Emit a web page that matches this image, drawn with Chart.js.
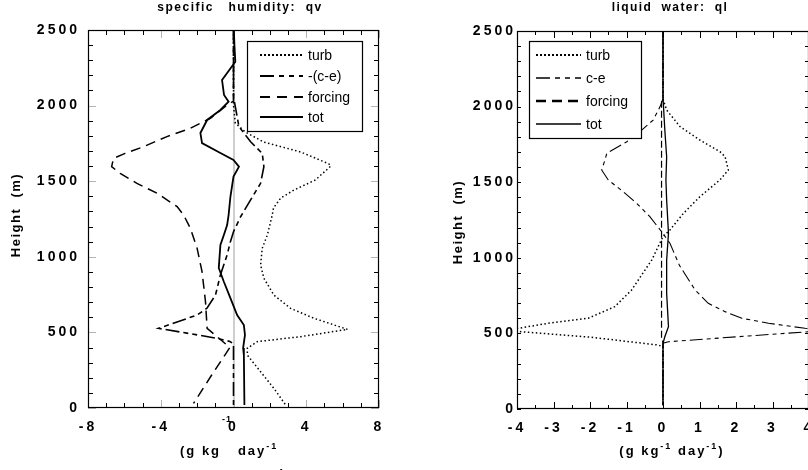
<!DOCTYPE html>
<html>
<head>
<meta charset="utf-8">
<script src="https://cdn.jsdelivr.net/npm/chart.js@4/dist/chart.umd.min.js"></script>
<style>
html, body { margin: 0; padding: 0; background: #fff; overflow: hidden; }
#wrap { position: relative; width: 808px; height: 470px; overflow: hidden; }
canvas { position: absolute; top: 0; }
#qv { left: 0; }
#ql { left: 404px; }
</style>
</head>
<body>
<div id="wrap">
  <canvas id="qv" width="404" height="470"></canvas>
  <canvas id="ql" width="420" height="470"></canvas>
</div>
<script>
// Tendency profiles: heights (m) and values (g kg-1 day-1)

// specific humidity qv
const qvTurbZ = [2500, 2000, 1884, 1825, 1759, 1693, 1615, 1600, 1508, 1442, 1389, 1323, 1276, 1144, 1056, 946, 858, 747, 659, 593, 520, 472, 439, 395, 350, 240, 130, 20];
const qvTurbX = [0, 0, 0.1, 0.66, 1.66, 3.7, 5.24, 5.35, 4.5, 3.33, 2.6, 2.2, 2.13, 1.86, 1.58, 1.49, 1.67, 2.22, 3.14, 4.43, 6.27, 3.7, 1.31, 0.76, 0.76, 1.49, 2.22, 2.87];

const qvCeZ = [2500, 2059, 1861, 1761, 1684, 1596, 1486, 1376, 1265, 1166, 1100, 1012, 880, 747, 661, 615, 527, 461, 440, 425, 20];
const qvCeX = [0, 0, 0.3, 0.94, 1.58, 1.67, 1.49, 0.94, 0.39, 0, -0.17, -0.35, -0.72, -0.99, -1.45, -2.0, -4.12, -0.9, -0.2, 0, 0];

const qvForZ = [2500, 2030, 2004, 1916, 1850, 1795, 1728, 1684, 1651, 1596, 1552, 1486, 1420, 1332, 1276, 1188, 1056, 902, 703, 527, 400, 218, 30];
const qvForX = [0, 0, -0.35, -1.27, -2.37, -3.66, -4.95, -5.96, -6.6, -6.7, -6.23, -5.31, -4.2, -3.1, -2.74, -2.37, -2.0, -1.73, -1.54, -1.45, -0.2, -1.2, -2.2];

const qvTotZ = [2500, 2400, 2290, 2169, 2070, 2026, 1971, 1905, 1819, 1752, 1686, 1640, 1596, 1530, 1397, 1276, 1210, 1144, 1078, 926, 835, 727, 615, 549, 483, 397, 350, 20];
const qvTotX = [0.02, 0.05, 0.1, -0.63, -0.52, -0.27, -0.72, -1.45, -1.82, -1.73, -0.72, 0, 0.3, 0, -0.17, -0.27, -0.35, -0.53, -0.72, -0.81, -0.53, -0.17, 0.2, 0.57, 0.63, 0.53, 0.57, 0.6];

// liquid water ql
const qlTurbZ = [2500, 2050, 1977, 1867, 1779, 1702, 1669, 1581, 1515, 1404, 1294, 1184, 1140, 985, 787, 677, 600, 567, 534, 522, 511, 474, 423, 412, 25];
const qlTurbX = [0, 0, 0.1, 0.47, 1.01, 1.56, 1.7, 1.79, 1.56, 1.01, 0.56, 0.19, 0, -0.31, -0.86, -1.32, -2.05, -3.14, -3.96, -4.6, -3.87, -1.95, -0.13, 0, 0];

const qlCeZ = [2500, 2050, 2000, 1911, 1834, 1768, 1691, 1647, 1581, 1515, 1437, 1360, 1272, 1173, 1096, 950, 787, 699, 644, 600, 567, 534, 522, 511, 483, 445, 435, 25];
const qlCeX = [0, 0, -0.08, -0.27, -0.63, -0.99, -1.54, -1.59, -1.68, -1.5, -1.09, -0.72, -0.36, -0.04, 0.19, 0.45, 0.88, 1.24, 1.7, 2.16, 2.89, 3.89, 4.6, 3.98, 2.34, 0.15, 0, 0];

const qlForZ = [2500, 2060, 2030, 470, 440, 25];
const qlForX = [0, 0, -0.04, -0.04, 0, 0];

const qlTotZ = [2500, 2060, 1845, 1669, 1515, 1382, 1162, 985, 765, 544, 478, 434, 25];
const qlTotX = [0, 0, 0.05, 0.1, 0.08, 0.1, 0.15, 0.1, 0.1, 0.15, 0.05, 0, 0];

const heightTicks = [0, 500, 1000, 1500, 2000, 2500];

const FONT = '"Liberation Sans", Arial, Helvetica, sans-serif';

function series(label, zs, xs, style) {
    return Object.assign({
        label: label,
        data: zs.map((z, i) => ({ x: xs[i], y: z })),
        showLine: true,
        pointRadius: 0,
        borderColor: '#000',
        backgroundColor: '#000',
        fill: false,
        tension: 0
    }, style);
}

// letter spaced tick labels, like the original plot
const spacing = {
    id: 'spacing',
    beforeDraw(chart) { chart.ctx.letterSpacing = '3px'; },
    beforeDatasetsDraw(chart) { chart.ctx.letterSpacing = '0px'; }
};

// inward tick marks on all four sides plus the frame
const frameTicks = {
    id: 'frameTicks',
    beforeDatasetsDraw(chart, args, o) {
        const { ctx, chartArea: a, scales: { x, y } } = chart;
        ctx.save();
        ctx.lineWidth = 1;
        const mult = (v, m) => Math.abs(v / m - Math.round(v / m)) < 1e-6;
        const seg = (x0, y0, x1, y1, c) => {
            ctx.strokeStyle = c;
            ctx.beginPath(); ctx.moveTo(x0, y0); ctx.lineTo(x1, y1); ctx.stroke();
        };
        for (let v = x.min; v <= x.max + 1e-9; v += o.xMinor) {
            const px = Math.round(x.getPixelForValue(v)) + 0.5;
            const big = mult(v, o.xMajor);
            const len = big ? o.xMajorLen : o.xMinorLen;
            const c = big ? o.majorColor : '#000';
            seg(px, a.bottom, px, a.bottom - len, c);
            seg(px, a.top, px, a.top + len, c);
        }
        for (let v = y.min; v <= y.max + 1e-9; v += o.yMinor) {
            const py = Math.round(y.getPixelForValue(v)) + 0.5;
            const big = mult(v, o.yMajor);
            const len = big ? o.yMajorLen : o.yMinorLen;
            const c = big ? o.majorColor : '#000';
            seg(a.left, py, a.left + len, py, c);
            seg(a.right, py, a.right - len, py, c);
        }
        ctx.strokeStyle = '#000';
        ctx.lineWidth = 1.2;
        ctx.strokeRect(Math.round(a.left) + 0.5, Math.round(a.top) + 0.5, Math.round(a.width) - 1, Math.round(a.height) - 1);
        ctx.restore();
    }
};

// boxed legend drawn from the datasets' own styles
const boxLegend = {
    id: 'boxLegend',
    afterDatasetsDraw(chart, args, o) {
        const ctx = chart.ctx;
        const [x0, y0, x1, y1] = o.box;
        ctx.save();
        ctx.fillStyle = '#fff';
        ctx.fillRect(x0, y0, x1 - x0, y1 - y0);
        ctx.strokeStyle = '#000';
        ctx.lineWidth = 1.2;
        ctx.strokeRect(x0 + 0.5, y0 + 0.5, x1 - x0, y1 - y0);
        ctx.font = '14px ' + FONT;
        ctx.fillStyle = '#000';
        ctx.textBaseline = 'middle';
        chart.data.datasets.forEach((ds, i) => {
            const ry = o.rows[i];
            ctx.setLineDash(ds.legendDash || ds.borderDash || []);
            ctx.lineWidth = ds.legendWidth || ds.borderWidth;
            ctx.beginPath();
            ctx.moveTo(o.lineX[0], ry);
            ctx.lineTo(o.lineX[1], ry);
            ctx.stroke();
            ctx.setLineDash([]);
            ctx.fillText(ds.label, o.textX, ry + 1);
        });
        ctx.restore();
    }
};

function drawRich(ctx, parts, x, y, opt) {
    const fonts = parts.map(p => 'bold ' + (p.sup ? 9 : opt.size) + 'px ' + FONT);
    ctx.letterSpacing = opt.spacing + 'px';
    let total = 0;
    const widths = parts.map((p, i) => {
        ctx.font = fonts[i];
        const w = ctx.measureText(p.t).width;
        total += w;
        return w;
    });
    let cx = opt.align === 'center' ? x - total / 2 : x;
    parts.forEach((p, i) => {
        ctx.font = fonts[i];
        ctx.fillText(p.t, cx, y - (p.sup ? 6 : 0));
        cx += widths[i];
    });
}

const texts = {
    id: 'texts',
    afterDraw(chart, args, o) {
        const ctx = chart.ctx;
        ctx.save();
        ctx.fillStyle = '#000';
        ctx.textAlign = 'left';
        ctx.textBaseline = 'alphabetic';
        o.items.forEach(it => {
            ctx.save();
            if (it.rotate) {
                ctx.translate(it.x, it.y);
                ctx.rotate(-Math.PI / 2);
                drawRich(ctx, it.parts, 0, 0, it);
            } else {
                drawRich(ctx, it.parts, it.x, it.y, it);
            }
            ctx.restore();
        });
        ctx.restore();
    }
};

function makeChart(id, datasets, cfg) {
    const tickFont = { family: FONT, size: 14, weight: 'bold' };
    return new Chart(document.getElementById(id), {
        type: 'scatter',
        data: { datasets: datasets },
        options: {
            responsive: false,
            animation: false,
            layout: { padding: cfg.padding },
            scales: {
                x: {
                    type: 'linear',
                    min: cfg.xMin, max: cfg.xMax,
                    ticks: {
                        stepSize: cfg.xStep, autoSkip: false, maxRotation: 0,
                        padding: 11, color: '#000', font: tickFont,
                        callback: v => String(v)
                    },
                    grid: {
                        drawTicks: false,
                        lineWidth: 2,
                        color: c => (cfg.zeroLine && c.tick && c.tick.value === 0) ? '#cfcfcf' : 'rgba(0,0,0,0)'
                    },
                    border: { display: false },
                    afterFit: s => { s.height = cfg.xHeight; }
                },
                y: {
                    type: 'linear',
                    min: 0, max: 2500,
                    afterBuildTicks: s => { s.ticks = heightTicks.map(v => ({ value: v })); },
                    ticks: { padding: cfg.yPad, color: '#000', font: tickFont, callback: v => String(v) },
                    grid: { display: false, drawTicks: false },
                    border: { display: false },
                    afterFit: s => { s.width = cfg.yWidth; }
                }
            },
            plugins: {
                legend: { display: false },
                tooltip: { enabled: false },
                frameTicks: cfg.ticks,
                boxLegend: cfg.legend,
                texts: { items: cfg.texts }
            }
        },
        plugins: [spacing, frameTicks, boxLegend, texts]
    });
}

makeChart('qv', [
    series('turb', qvTurbZ, qvTurbX, { borderWidth: 1.5, borderDash: [1.5, 2.5], legendDash: [2, 2], legendWidth: 2 }),
    series('-(c-e)', qvCeZ, qvCeX, { borderWidth: 1.6, borderDash: [14, 4, 5, 4, 5, 4], legendDash: [14, 5, 5, 5, 5, 5], legendWidth: 2 }),
    series('forcing', qvForZ, qvForX, { borderWidth: 1.5, borderDash: [10, 6], legendDash: [10, 7], legendWidth: 2 }),
    series('tot', qvTotZ, qvTotX, { borderWidth: 1.8, legendWidth: 2.2 })
], {
    padding: { left: 0, top: 30, right: 25, bottom: 0 },
    xMin: -8, xMax: 8, xStep: 4, xHeight: 62,
    yWidth: 88, yPad: 8,
    zeroLine: true,
    ticks: { xMinor: 1, xMajor: 4, yMinor: 100, yMajor: 500, xMinorLen: 5, xMajorLen: 8, yMinorLen: 5, yMajorLen: 8, majorColor: '#b4b4b4' },
    legend: { box: [247, 41, 362, 131], rows: [55, 76, 97, 117], lineX: [260, 303], textX: 308 },
    texts: [
        { parts: [{ t: 'specific   humidity:  qv' }], x: 240, y: 11, size: 12, spacing: 1.5, align: 'center' },
        { parts: [{ t: 'Height  (m)' }], x: 20, y: 215, size: 13, spacing: 1.5, align: 'center', rotate: true },
        { parts: [{ t: '(g kg   day' }, { t: '-1', sup: true }], x: 180, y: 455, size: 13, spacing: 2, align: 'left' },
        { parts: [{ t: '-1', sup: true }], x: 222, y: 428, size: 13, spacing: 1, align: 'left' },
        { parts: [{ t: ')' }], x: 280, y: 478, size: 13, spacing: 0, align: 'left' }
    ]
});

makeChart('ql', [
    series('turb', qlTurbZ, qlTurbX, { borderWidth: 1.5, borderDash: [1.5, 2.5], legendDash: [2, 2], legendWidth: 2 }),
    series('c-e', qlCeZ, qlCeX, { borderWidth: 1.1, borderDash: [13, 4, 4, 4, 4, 4], legendDash: [14, 5, 5, 5, 5, 5], legendWidth: 1.3 }),
    series('forcing', qlForZ, qlForX, { borderWidth: 1.2, borderDash: [7, 3], legendDash: [10, 6], legendWidth: 2.5 }),
    series('tot', qlTotZ, qlTotX, { borderWidth: 1.3, legendWidth: 1.3 })
], {
    padding: { left: 0, top: 31, right: 15, bottom: 0 },
    xMin: -4, xMax: 4, xStep: 1, xHeight: 61,
    yWidth: 113, yPad: 1,
    zeroLine: false,
    ticks: { xMinor: 0.5, xMajor: 1, yMinor: 100, yMajor: 100000, xMinorLen: 4, xMajorLen: 7, yMinorLen: 4, yMajorLen: 4, majorColor: '#000' },
    legend: { box: [125, 41, 237, 138], rows: [55, 78, 101, 124], lineX: [132, 177], textX: 182 },
    texts: [
        { parts: [{ t: 'liquid  water:  ql' }], x: 266, y: 11, size: 12, spacing: 1.4, align: 'center' },
        { parts: [{ t: 'Height  (m)' }], x: 58, y: 222, size: 13, spacing: 1.5, align: 'center', rotate: true },
        { parts: [{ t: '(g kg' }, { t: '-1', sup: true }, { t: ' day' }, { t: '-1', sup: true }, { t: ')' }], x: 268, y: 455, size: 13, spacing: 2, align: 'center' }
    ]
});
</script>
</body>
</html>
